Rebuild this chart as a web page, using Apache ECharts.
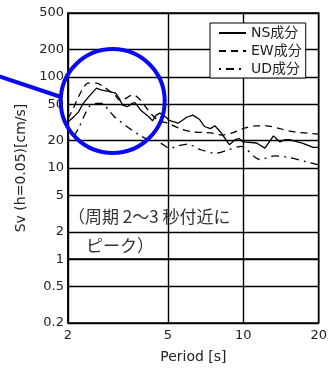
<!DOCTYPE html>
<html><head><meta charset="utf-8">
<script src="https://cdn.jsdelivr.net/npm/echarts@6/dist/echarts.min.js"></script>
<style>html,body{margin:0;padding:0;background:#fff}#c{width:330px;height:369px}</style>
</head><body><div id="c"></div>
<script>
// tick labels
const xTicks = [2, 5, 10, 20];
const yTicks = [0.2, 0.5, 1, 2, 5, 10, 20, 50, 100, 200, 500];
const seriesNames = ['NS成分', 'EW成分', 'UD成分'];

// NS component
const nsPeriod = [2.0, 2.12, 2.2, 2.3, 2.45, 2.6, 2.7, 2.9, 3.1, 3.2, 3.3, 3.45, 3.6, 3.7, 3.9, 4.2, 4.35, 4.5, 4.65, 4.8, 5.1, 5.5, 5.95, 6.3, 6.7, 7.0, 7.4, 7.7, 8.1, 8.8, 9.3, 9.6, 10.0, 11.3, 12.2, 13.2, 14.0, 14.7, 15.3, 17.3, 19.0, 20.0];
const nsSv     = [32, 37, 41, 51, 63, 75, 72, 69, 66, 58, 49, 47, 51, 52, 43, 36.5, 33, 38, 40, 38, 33, 31, 36, 38, 34, 28.5, 27, 29, 25, 18, 20.5, 21, 19.3, 18.8, 16.5, 22.5, 19.3, 20.5, 20.5, 18.6, 16.8, 16.8];

// EW component
const ewPeriod = [2.0, 2.1, 2.2, 2.3, 2.4, 2.6, 2.75, 2.95, 3.08, 3.22, 3.4, 3.6, 3.75, 3.95, 4.1, 4.3, 4.6, 5.0, 5.6, 6.2, 7.0, 7.6, 8.2, 9.1, 10.1, 11.3, 12.4, 14.0, 15.8, 20.0];
const ewSv     = [35, 45, 60, 75, 85, 85, 79, 69, 63, 55, 58, 63, 61, 53, 46, 39, 33, 31, 27, 25, 24.5, 24, 23, 24.4, 27.3, 29, 29, 27, 25, 23.5];

// UD component
const udPeriod = [2.0, 2.1, 2.2, 2.35, 2.45, 2.6, 2.75, 2.9, 3.05, 3.2, 3.4, 3.6, 3.85, 4.1, 4.4, 4.65, 5.1, 5.5, 6.0, 6.7, 7.8, 8.7, 9.8, 11.1, 11.6, 13.4, 15.3, 17.9, 20.0];
const udSv     = [20, 22, 27, 40, 48, 51, 51, 43, 37, 33, 29, 26, 23, 21, 20.3, 19, 16.5, 17.5, 18.3, 16, 14.5, 15.8, 17.3, 13.2, 12.4, 13.6, 13, 11.7, 10.8];

const L = Math.log10;
function pts(ps, vs) { return ps.map((p, i) => [L(p), L(vs[i])]); }
function fmt(v) { return String(parseFloat(Math.pow(10, v).toPrecision(3))); }

const font = '"DejaVu Sans", "Noto Sans CJK JP", sans-serif';
const chart = echarts.init(document.getElementById('c'), null, { renderer: 'canvas' });

function axisCommon(ticks, name, nameGap, margin) {
  return {
    type: 'value',
    min: L(ticks[0]), max: L(ticks[ticks.length - 1]),
    name: name, nameLocation: 'middle', nameGap: nameGap,
    nameTextStyle: { fontFamily: font, fontSize: 14, color: '#222' },
    axisLine: { show: true, lineStyle: { color: '#000', width: 1.5 } },
    axisTick: { show: false, customValues: ticks.map(L) },
    axisLabel: { customValues: ticks.map(L), formatter: fmt, fontFamily: font, fontSize: 13, color: '#222', margin: margin, showMinLabel: true, showMaxLabel: true },
    splitLine: { show: true, lineStyle: { color: '#000', width: 1.4 } }
  };
}

const lineBase = { type: 'line', symbol: 'none', silent: true, z: 3, emphasis: { disabled: true } };

chart.setOption({
  animation: false,
  grid: { left: 68, right: 11, top: 13, bottom: 46, show: true, borderColor: '#000', borderWidth: 1.5 },
  xAxis: axisCommon(xTicks, 'Period [s]', 27, 6),
  yAxis: axisCommon(yTicks, 'Sv (h=0.05)[cm/s]', 37, 4),
  legend: {
    data: seriesNames, orient: 'vertical', left: 210, top: 23,
    itemWidth: 27, itemHeight: 14, itemGap: 4,
    padding: [3, 4, 2, 8], borderColor: '#000', borderWidth: 1, backgroundColor: '#fff',
    textStyle: { fontFamily: font, fontSize: 14, color: '#222' },
    itemStyle: { opacity: 0 },
    selectedMode: false
  },
  series: [
    Object.assign({}, lineBase, { name: seriesNames[0], data: pts(nsPeriod, nsSv), itemStyle: { color: '#000' }, lineStyle: { color: '#000', width: 1.3, type: 'solid' } }),
    Object.assign({}, lineBase, { name: seriesNames[1], data: pts(ewPeriod, ewSv), smooth: 0.3, itemStyle: { color: '#000' }, lineStyle: { color: '#000', width: 1.3, type: [7, 5] } }),
    Object.assign({}, lineBase, { name: seriesNames[2], data: pts(udPeriod, udSv), smooth: 0.3, itemStyle: { color: '#000' }, lineStyle: { color: '#000', width: 1.3, type: [2, 5, 8, 5] } })
  ],
  graphic: [
    { type: 'circle', z: 100, shape: { cx: 112.7, cy: 101, r: 52 }, style: { fill: 'none', stroke: '#0a0af0', lineWidth: 4 } },
    { type: 'line', z: 100, shape: { x1: -2, y1: 76, x2: 61, y2: 97 }, style: { stroke: '#0a0af0', lineWidth: 4 } },
    { type: 'text', z: 100, x: 68, y: 217, style: { text: '（周期 2～3 秒付近に', font: '17px "Noto Sans CJK JP"', fill: '#333', verticalAlign: 'middle', align: 'left' } },
    { type: 'text', z: 100, x: 86, y: 246, style: { text: 'ピーク）', font: '17px "Noto Sans CJK JP"', fill: '#333', verticalAlign: 'middle', align: 'left' } }
  ]
});
</script></body></html>
